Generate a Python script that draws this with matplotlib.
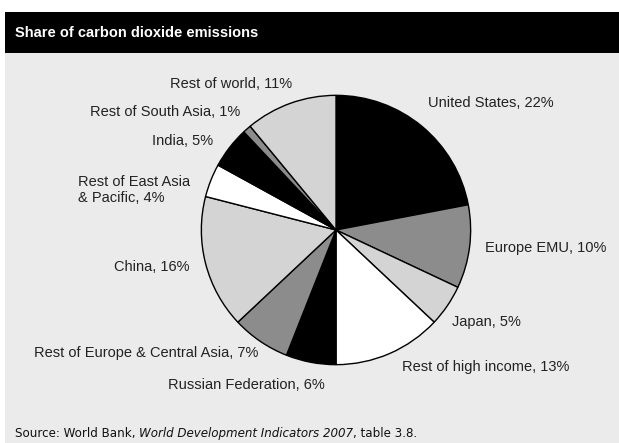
import matplotlib
matplotlib.use("Agg")
import matplotlib.pyplot as plt
from matplotlib.patches import Rectangle

categories = ["United States", "Europe EMU", "Japan", "Rest of high income",
              "Russian Federation", "Rest of Europe & Central Asia", "China",
              "Rest of East Asia\n& Pacific", "India", "Rest of South Asia",
              "Rest of world"]
shares = [22, 10, 5, 13, 6, 7, 16, 4, 5, 1, 11]
title = "Share of carbon dioxide emissions"
source_parts = [("Source: World Bank, ", "normal"),
                ("World Development Indicators 2007", "italic"),
                (", table 3.8.", "normal")]

# layout (pixel positions of labels, alignment)
label_pos = [(428, 103, "left"), (485, 248, "left"), (452, 322, "left"),
             (402, 367, "left"), (325, 385, "right"), (258, 353, "right"),
             (190, 267, "right"), (78, 190, "left"), (213, 141, "right"),
             (240, 112, "right"), (292, 84, "right")]
colors = ["#000000", "#8c8c8c", "#d4d4d4", "#ffffff"] * 3

plt.rcParams['font.family'] = ['Liberation Sans', 'DejaVu Sans']

W, H = 619, 443
fig = plt.figure(figsize=(W / 100, H / 100), dpi=100)
bg = fig.add_axes([0, 0, 1, 1])
bg.set_xlim(0, W)
bg.set_ylim(H, 0)
bg.axis("off")
bg.add_patch(Rectangle((5, 53), W - 5, H - 53, facecolor="#ebebeb", edgecolor="none"))
bg.add_patch(Rectangle((5, 12), W - 5, 41, facecolor="#000000", edgecolor="none"))
bg.text(15, 33, title, color="white", fontsize=10.5, fontweight="bold",
        va="center", ha="left")

cx, cy, r = 336, 230, 136
pax = fig.add_axes([(cx - r) / W, 1 - (cy + r) / H, 2 * r / W, 2 * r / H])
pax.pie(shares, colors=colors[:len(shares)], startangle=90, counterclock=False,
        wedgeprops=dict(edgecolor="black", linewidth=1.0))
pax.set_xlim(-1.01, 1.01)
pax.set_ylim(-1.01, 1.01)
pax.axis("off")

for name, val, (x, y, ha) in zip(categories, shares, label_pos):
    bg.text(x, y, f"{name}, {val}%", ha=ha, va="center", fontsize=10.5,
            color="#222222", linespacing=1.1)

renderer = fig.canvas.get_renderer()
x0 = 15.0
for txt, st in source_parts:
    t = bg.text(x0, 437, txt, fontsize=8.6, style=st, color="#111111",
                family="DejaVu Sans", ha="left", va="baseline")
    ext = t.get_window_extent(renderer=renderer)
    x0 += ext.width * 100.0 / fig.dpi

fig.savefig("out.png", dpi=100)
